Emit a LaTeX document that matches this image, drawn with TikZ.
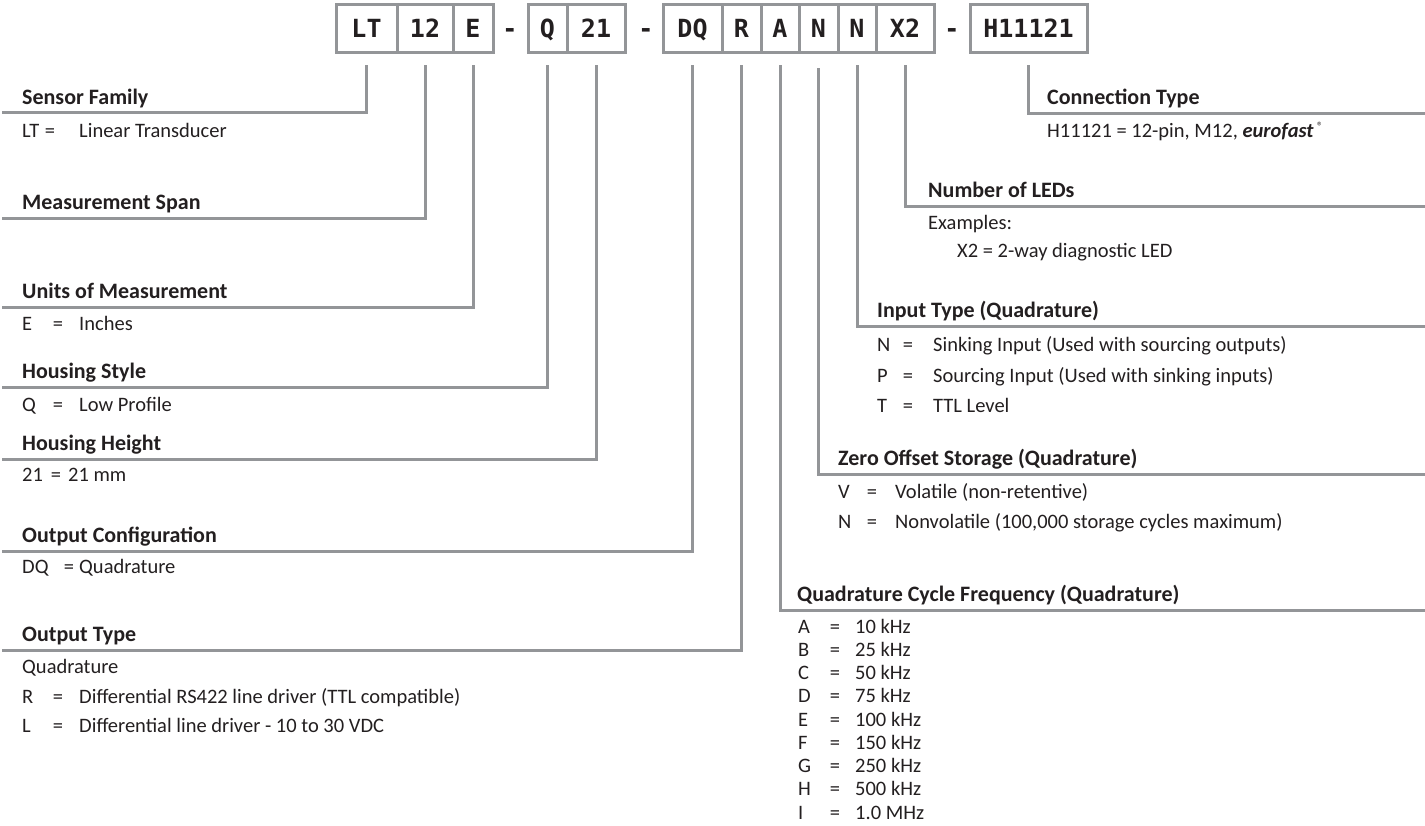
\documentclass[tikz,border=0pt]{standalone}
\usepackage{fontspec}
\setmainfont{Carlito}
\newfontfamily\boxfont{DejaVu Sans Mono}
\definecolor{ln}{HTML}{939598}
\definecolor{tx}{HTML}{231F20}
\begin{document}
\begin{tikzpicture}[x=1pt,y=-1pt,
  cbox/.style={draw=ln, line width=3pt, minimum height=48pt, inner sep=0pt,
    text height=18pt, text depth=0pt,
    font=\boxfont\bfseries\fontsize{25}{25}\selectfont, text=tx},
  dashlbl/.style={anchor=base, inner sep=0pt, font=\boxfont\bfseries\fontsize{25}{25}\selectfont, text=tx},
  conn/.style={draw=ln, line width=3pt},
  hd/.style={anchor=base west, inner sep=0pt, font=\bfseries\fontsize{22}{24}\selectfont, text=tx},
  it/.style={anchor=base west, inner sep=0pt, font=\fontsize{20.5}{22}\selectfont, text=tx},
  eq/.style={anchor=base, inner sep=0pt, font=\fontsize{20.5}{22}\selectfont, text=tx},
]
\useasboundingbox (0,0) rectangle (1425,826);

% ---------- code boxes ----------
\node[cbox, minimum width=61pt] (bLT) at (366.5,29) {LT};
\node[cbox, minimum width=56pt] (b12) at (425,29) {12};
\node[cbox, minimum width=40pt] (bE) at (473,29) {E};
\node[dashlbl] (d1) at (510,38) {-};
\node[cbox, minimum width=39pt] (bQ) at (547.5,29) {Q};
\node[cbox, minimum width=58pt] (b21) at (596,29) {21};
\node[dashlbl] (d2) at (646,38) {-};
\node[cbox, minimum width=59pt] (bDQ) at (692.5,29) {DQ};
\node[cbox, minimum width=39pt] (bR) at (741.5,29) {R};
\node[cbox, minimum width=38pt] (bA) at (780,29) {A};
\node[cbox, minimum width=39pt] (bN1) at (818.5,29) {N};
\node[cbox, minimum width=38pt] (bN2) at (857,29) {N};
\node[cbox, minimum width=58pt] (bX2) at (905,29) {X2};
\node[dashlbl] (d3) at (952,38) {-};
\node[cbox, minimum width=117pt] (bH) at (1028.5,29) {H11121};

% ---------- line end coordinates ----------
\coordinate (lSF) at (2,113);
\coordinate (lMS) at (2,219);
\coordinate (lUM) at (2,308);
\coordinate (lHS) at (2,388);
\coordinate (lHH) at (2,459);
\coordinate (lOC) at (2,551);
\coordinate (lOT) at (2,650);
\coordinate (rCT) at (1425,114);
\coordinate (rNL) at (1425,207);
\coordinate (rIT) at (1425,327);
\coordinate (rZO) at (1425,474);
\coordinate (rQF) at (1425,610);

% ---------- connectors ----------
\draw[conn] ([yshift=-11pt]bLT.south) |- (lSF);
\draw[conn] ([yshift=-11pt]b12.south) |- (lMS);
\draw[conn] ([yshift=-11pt]bE.south) |- (lUM);
\draw[conn] ([yshift=-11pt]bQ.south) |- (lHS);
\draw[conn] ([yshift=-11pt]b21.south) |- (lHH);
\draw[conn] ([yshift=-11pt]bDQ.south) |- (lOC);
\draw[conn] ([yshift=-11pt]bR.south) |- (lOT);
\draw[conn] ([yshift=-11pt]bH.south) |- (rCT);
\draw[conn] ([yshift=-11pt]bX2.south) |- (rNL);
\draw[conn] ([yshift=-11pt]bN2.south) |- (rIT);
\draw[conn] ([yshift=-14pt]bN1.south) |- (rZO);
\draw[conn] ([yshift=-11pt]bA.south) |- (rQF);

% ---------- left column ----------
\node[hd] (hSF) at (22,105) {Sensor Family};
\node[it] (kLT) at (22,138) {LT};
\node[eq] (eLT) at (50,138) {=};
\node[it] (vLT) at (79,138) {Linear Transducer};

\node[hd] (hMS) at (22,210) {Measurement Span};

\node[hd] (hUM) at (22,299) {Units of Measurement};
\node[it] (kE) at (22,331) {E};
\node[eq] (eE) at (58,331) {=};
\node[it] (vE) at (79,331) {Inches};

\node[hd] (hHS) at (22,379) {Housing Style};
\node[it] (kQ) at (22,411) {Q};
\node[eq] (eQ) at (58,411) {=};
\node[it] (vQ) at (79,411) {Low Profile};

\node[hd] (hHH) at (22,450) {Housing Height};
\node[it] (k21) at (22,481) {21};
\node[eq] (e21) at (56,481) {=};
\node[it] (v21) at (68,481) {21 mm};

\node[hd] (hOC) at (22,542) {Output Configuration};
\node[it] (kDQ) at (22,573) {DQ};
\node[eq] (eDQ) at (69,573) {=};
\node[it] (vDQ) at (79,573) {Quadrature};

\node[hd] (hOT) at (22,641) {Output Type};
\node[it] (vOT) at (22,673) {Quadrature};
\node[it] (kR) at (22,703) {R};
\node[eq] (eR) at (58,703) {=};
\node[it] (vR) at (79,703) {Differential RS422 line driver (TTL compatible)};
\node[it] (kL) at (22,732) {L};
\node[eq] (eL) at (58,732) {=};
\node[it] (vL) at (79,732) {Differential line driver - 10 to 30 VDC};

% ---------- right column ----------
\node[hd] (hCT) at (1047,105) {Connection Type};
\node[it] (vCT) at (1047,138) {H11121 = 12-pin, M12, \textbf{\textit{eurofast}}\,\raisebox{7pt}{\fontsize{12}{12}\selectfont\textregistered}};

\node[hd] (hNL) at (928,198) {Number of LEDs};
\node[it] (vNL1) at (928,230) {Examples:};
\node[it] (vNL2) at (957,258) {X2 = 2-way diagnostic LED};

\node[hd] (hIT) at (877,318) {Input Type (Quadrature)};
\node[it] (kN) at (877,352) {N};
\node[eq] (eN) at (908,352) {=};
\node[it] (vN) at (933,352) {Sinking Input (Used with sourcing outputs)};
\node[it] (kP) at (877,382) {P};
\node[eq] (eP) at (908,382) {=};
\node[it] (vP) at (933,382) {Sourcing Input (Used with sinking inputs)};
\node[it] (kT) at (877,412) {T};
\node[eq] (eT) at (908,412) {=};
\node[it] (vT) at (933,412) {TTL Level};

\node[hd] (hZO) at (838,465) {Zero Offset Storage (Quadrature)};
\node[it] (kV) at (838,498) {V};
\node[eq] (eV) at (872,498) {=};
\node[it] (vV) at (895,498) {Volatile (non-retentive)};
\node[it] (kNv) at (838,528) {N};
\node[eq] (eNv) at (872,528) {=};
\node[it] (vNv) at (895,528) {Nonvolatile (100,000 storage cycles maximum)};

\node[hd] (hQF) at (797,601) {Quadrature Cycle Frequency (Quadrature)};
\foreach \k/\v [count=\i from 0] in {A/10 kHz, B/25 kHz, C/50 kHz, D/75 kHz, E/100 kHz, F/150 kHz, G/250 kHz, H/500 kHz, I/1.0 MHz}{
  \node[it] (kF\i) at (798,633+23.25*\i) {\k};
  \node[eq] (eF\i) at (835,633+23.25*\i) {=};
  \node[it] (vF\i) at (855,633+23.25*\i) {\v};
}
\end{tikzpicture}
\end{document}
